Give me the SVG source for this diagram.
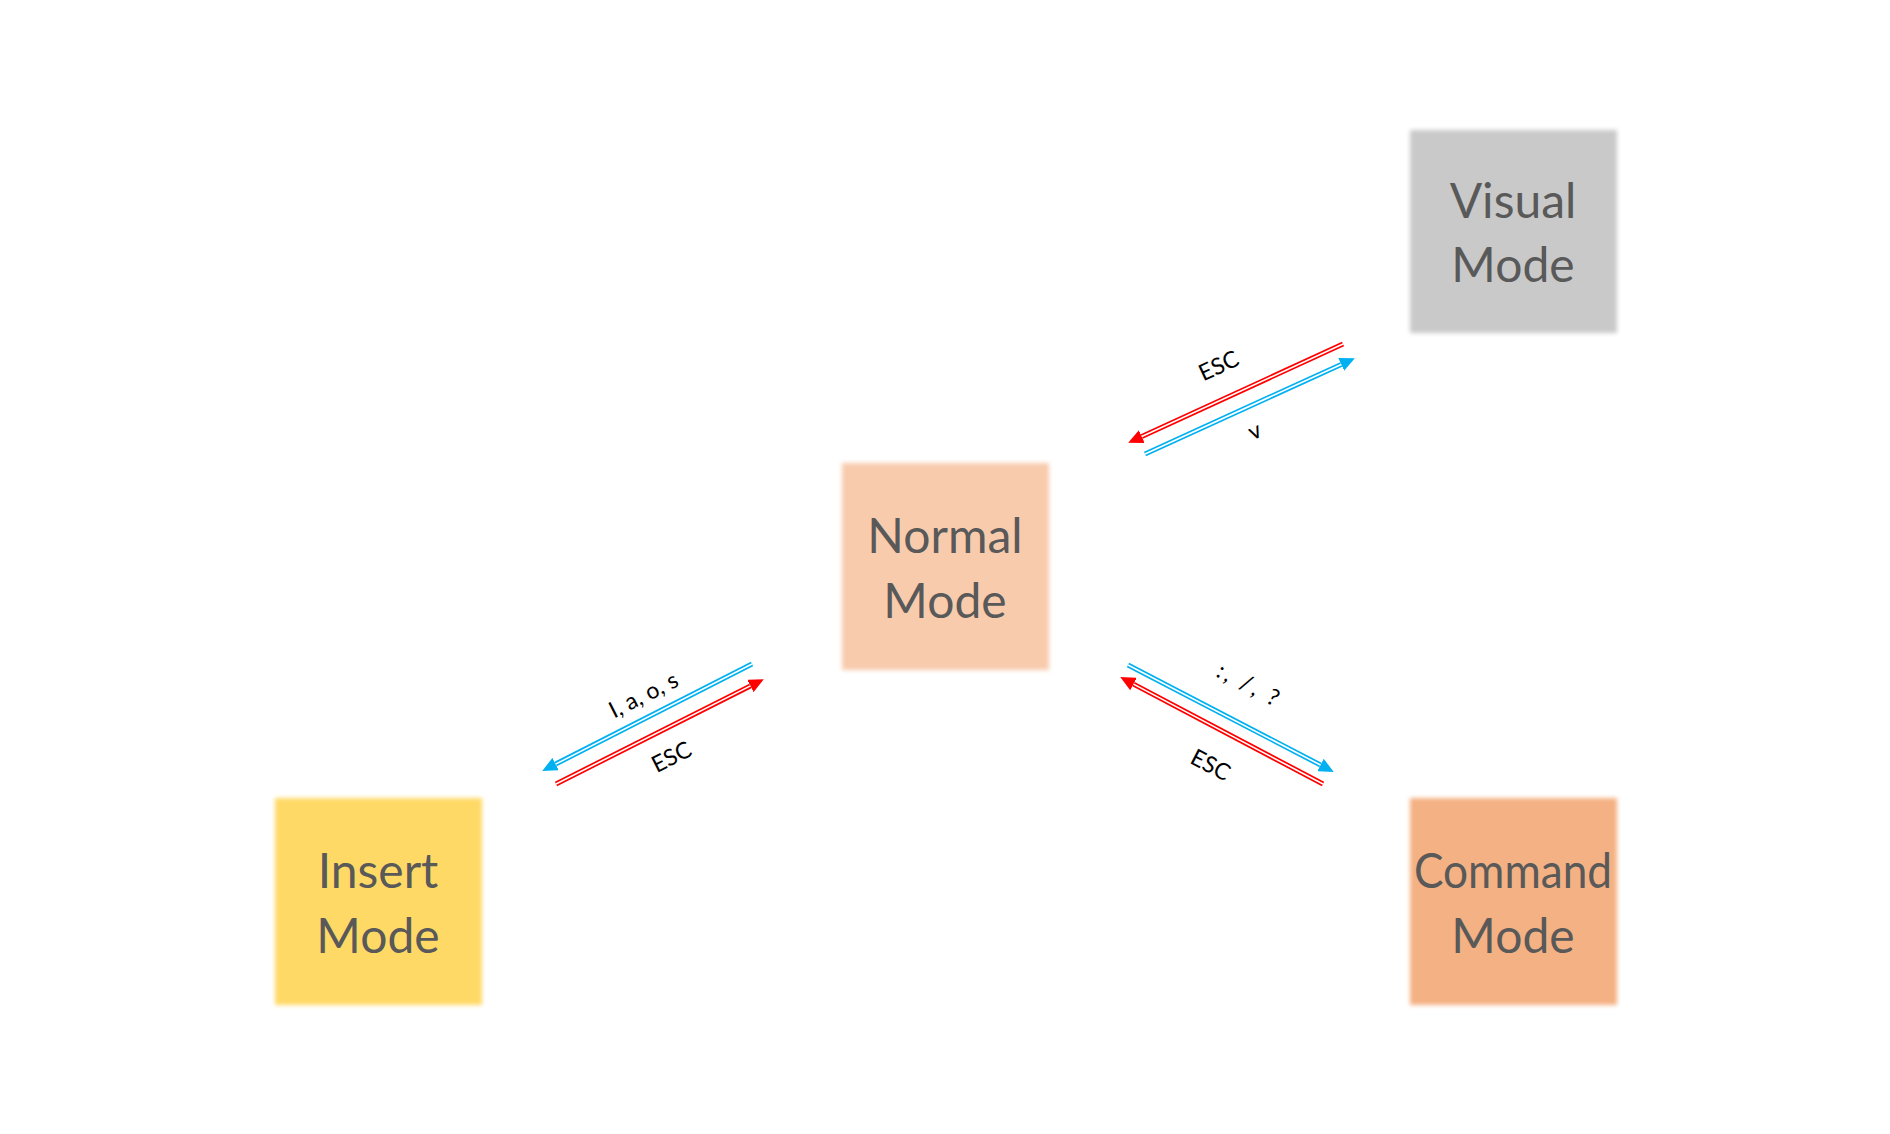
<svg xmlns="http://www.w3.org/2000/svg" width="1890" height="1134" viewBox="0 0 1890 1134">
  <defs>
    <style>
      .box { filter: url(#soft); }
      .ntext { font-family: Lato, "Open Sans", "Liberation Sans", sans-serif; font-size: 48px; fill: #595959; text-anchor: middle; }
      .lbl { font-family: Lato, "Open Sans", "Liberation Sans", sans-serif; font-size: 23px; fill: #000000; text-anchor: middle; }
      .red { stroke: #FF0000; stroke-width: 5; fill: none; }
      .blue { stroke: #00B0F0; stroke-width: 5; fill: none; }
      .gap { stroke: #FFFFFF; stroke-width: 1.6; fill: none; }
    </style>
    <filter id="soft" x="-5%" y="-5%" width="110%" height="110%">
      <feGaussianBlur stdDeviation="2"/>
    </filter>
    <marker id="ahRed" markerUnits="userSpaceOnUse" markerWidth="16" markerHeight="14" refX="0" refY="7" orient="auto">
      <path d="M0,0 L15,7 L0,14 z" fill="#FF0000"/>
    </marker>
    <marker id="ahBlue" markerUnits="userSpaceOnUse" markerWidth="16" markerHeight="14" refX="0" refY="7" orient="auto">
      <path d="M0,0 L15,7 L0,14 z" fill="#00B0F0"/>
    </marker>
  </defs>
  <rect width="1890" height="1134" fill="#FFFFFF"/>

  <g id="visual-mode">
    <rect class="box" x="1410" y="130" width="207" height="203" fill="#C9C9C9"/>
    <text class="ntext" x="1513" y="218">Visual</text>
    <text class="ntext" x="1513" y="282">Mode</text>
  </g>
  <g id="normal-mode">
    <rect class="box" x="842" y="463" width="207" height="207" fill="#F8CBAD"/>
    <text class="ntext" x="945" y="553">Normal</text>
    <text class="ntext" x="945" y="618">Mode</text>
  </g>
  <g id="insert-mode">
    <rect class="box" x="275" y="798" width="207" height="207" fill="#FFD966"/>
    <text class="ntext" x="378" y="888">Insert</text>
    <text class="ntext" x="378" y="953">Mode</text>
  </g>
  <g id="command-mode">
    <rect class="box" x="1410" y="798" width="207" height="207" fill="#F4B183"/>
    <text class="ntext" x="1513" y="888" textLength="198" lengthAdjust="spacingAndGlyphs">Command</text>
    <text class="ntext" x="1513" y="953">Mode</text>
  </g>

  <g id="connectors">
    <path class="red" d="M1343,344 L1141.8,436.6" marker-end="url(#ahRed)"/>
    <path class="gap" d="M1343,344 L1141.8,436.6"/>
    <path class="blue" d="M1145,454 L1341.2,364.4" marker-end="url(#ahBlue)"/>
    <path class="gap" d="M1145,454 L1341.2,364.4"/>

    <path class="blue" d="M752,664 L555.6,764.1" marker-end="url(#ahBlue)"/>
    <path class="gap" d="M752,664 L555.6,764.1"/>
    <path class="red" d="M556,784 L750.4,685.9" marker-end="url(#ahRed)"/>
    <path class="gap" d="M556,784 L750.4,685.9"/>

    <path class="blue" d="M1128,665 L1320.5,765" marker-end="url(#ahBlue)"/>
    <path class="gap" d="M1128,665 L1320.5,765"/>
    <path class="red" d="M1323,784 L1133.5,684.1" marker-end="url(#ahRed)"/>
    <path class="gap" d="M1323,784 L1133.5,684.1"/>

    <text class="lbl" transform="translate(1222,373) rotate(-24.7)">ESC</text>
    <text class="lbl" transform="translate(1258,438) rotate(-24.7)">v</text>
    <text class="lbl" transform="translate(647,702) rotate(-27)">I, a, o, s</text>
    <text class="lbl" transform="translate(675,764) rotate(-27)">ESC</text>
    <text class="lbl" transform="translate(1246,692) rotate(27.5)" letter-spacing="3">:, /, ?</text>
    <text class="lbl" transform="translate(1207,772) rotate(27.5)">ESC</text>
  </g>
</svg>
